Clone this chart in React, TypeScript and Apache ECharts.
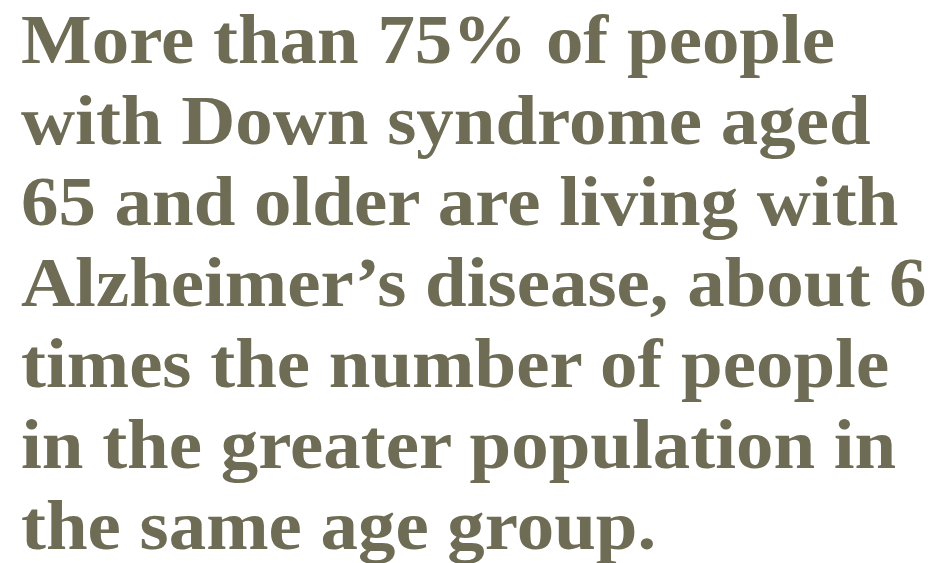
import React, { useEffect, useRef } from "react";
import * as echarts from "echarts";

const lines: string[] = [
  "More than 75% of people",
  "with Down syndrome aged",
  "65 and older are living with",
  "Alzheimer\u2019s disease, about 6",
  "times the number of people",
  "in the greater population in",
  "the same age group.",
];

const TEXT_COLOR = "#6e6c55";
const FONT_SIZE = 70;
const LEFT = 21;
const FIRST_BASELINE = 62;
const LINE_STEP = 81;
const STRETCH = 1.07;

export default function App() {
  const ref = useRef<HTMLDivElement>(null);
  useEffect(() => {
    if (!ref.current) return;
    const chart = echarts.init(ref.current, undefined, { renderer: "svg" });
    chart.setOption({
      animation: false,
      backgroundColor: "#ffffff",
      graphic: lines.map((t, i) => ({
        type: "text",
        x: LEFT,
        y: FIRST_BASELINE + i * LINE_STEP - FONT_SIZE * 0.33,
        scaleX: STRETCH,
        style: {
          text: t,
          fill: TEXT_COLOR,
          font: `bold ${FONT_SIZE}px "Liberation Serif", "DejaVu Serif", serif`,
          textAlign: "left",
          textVerticalAlign: "middle",
        },
      })),
    });
    return () => chart.dispose();
  }, []);
  return (
    <div
      ref={ref}
      style={{ position: "fixed", left: 0, top: 0, width: 941, height: 563 }}
    />
  );
}
